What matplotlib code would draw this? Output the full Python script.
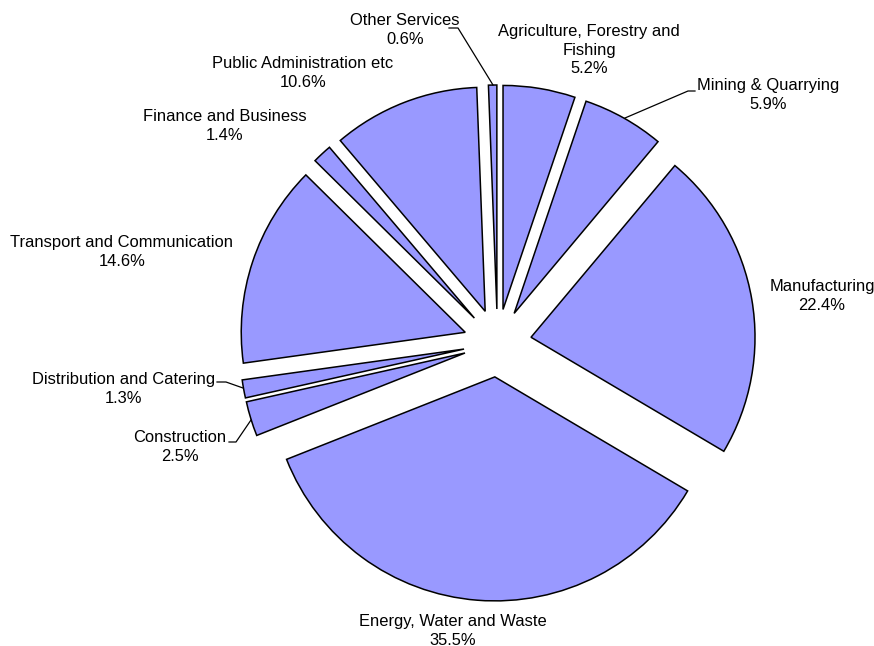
import matplotlib
matplotlib.use("Agg")
import matplotlib.pyplot as plt

# sector shares (%), clockwise from 12 o'clock
sectors = ["Agriculture, Forestry and\nFishing", "Mining & Quarrying", "Manufacturing",
           "Energy, Water and Waste", "Construction", "Distribution and Catering",
           "Transport and Communication", "Finance and Business",
           "Public Administration etc", "Other Services"]
shares = [5.2, 5.9, 22.4, 35.5, 2.5, 1.3, 14.6, 1.4, 10.6, 0.6]

plt.rcParams['font.family'] = ['Liberation Sans', 'DejaVu Sans']

W, H = 874, 646
fig = plt.figure(figsize=(W / 100, H / 100), dpi=100)
ax = fig.add_axes([0, 0, 1, 1])

# pie in pixel units (y axis flipped, so draw counterclock to get clockwise)
radius = 224
ax.pie(shares, center=(497.5, 343), radius=radius, explode=[34] * len(shares),
       startangle=-90, counterclock=True, colors=['#9999ff'] * len(shares),
       wedgeprops=dict(edgecolor='black', linewidth=1.1), frame=True)
ax.set_xlim(0, W)
ax.set_ylim(H, 0)
ax.set_aspect('equal')
ax.axis('off')

# label layout: (x, y of centre of text block), optional leader line points
layout = {
    "Other Services": ((405, 30), [(449, 28), (458, 28), (493, 85)]),
    "Agriculture, Forestry and\nFishing": ((589, 50), None),
    "Mining & Quarrying": ((768, 95), [(695, 91), (688, 91), (625, 118)]),
    "Manufacturing": ((822, 296), None),
    "Energy, Water and Waste": ((453, 631), None),
    "Construction": ((180, 447), [(229, 442), (236, 442), (251, 420)]),
    "Distribution and Catering": ((124, 389), [(217, 382), (226, 382), (243, 388)]),
    "Transport and Communication": ((122, 252), None),
    "Finance and Business": ((225, 126), None),
    "Public Administration etc": ((303, 73), None),
}

for name, val in zip(sectors, shares):
    (x, y), leader = layout[name]
    ax.text(x, y, f"{name}\n{val:.1f}%", ha='center', va='center',
            fontsize=11.9, linespacing=1.28, color='black')
    if leader:
        xs, ys = zip(*leader)
        ax.plot(xs, ys, color='black', linewidth=0.9)

fig.savefig("out.png", dpi=100)
